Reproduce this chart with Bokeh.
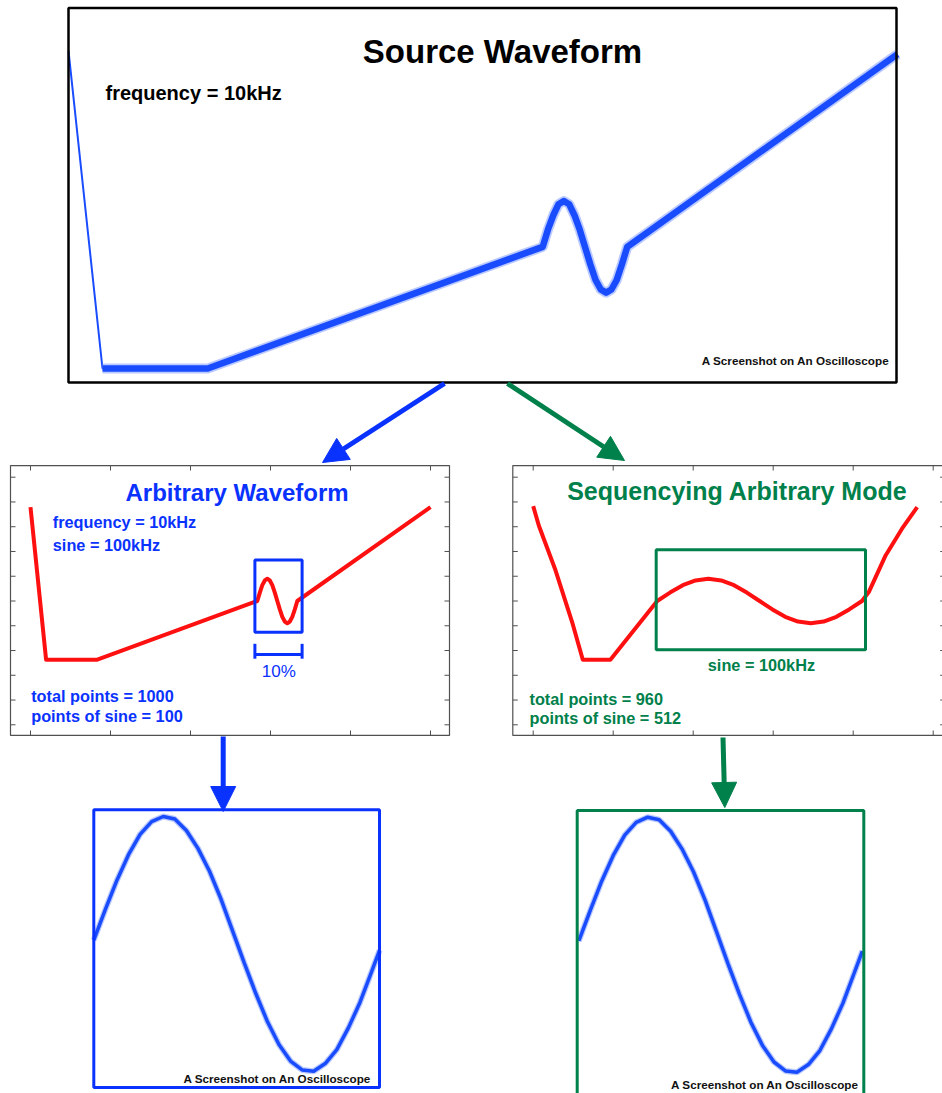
from bokeh.plotting import figure
from bokeh.models import Range1d, ColumnDataSource, Arrow, NormalHead
from bokeh.core.properties import value
from bokeh.embed import file_html
from bokeh.resources import INLINE

# ---------------- data ----------------
# Source waveform on the oscilloscope: time in % of the 100 us period, level in V
SRC_T = [0.0, 4.1, 16.8, 57.2, 57.84, 58.48, 59.11, 59.75, 60.39, 61.03, 61.66,
         62.3, 62.94, 63.58, 64.21, 64.85, 65.49, 66.13, 66.76, 67.4, 100.0]
SRC_V = [1.01, -1.0, -1.0, -0.23, -0.12, -0.03, 0.04, 0.06, 0.04, -0.03, -0.12,
         -0.23, -0.34, -0.44, -0.50, -0.52, -0.50, -0.44, -0.34, -0.23, 0.99]

# Arbitrary waveform: sample index (1000 points), level in tick units
ARB_X = [0, 39, 167, 567, 573.3, 579.5, 585.8, 592, 598.3, 604.5, 610.8, 617,
         623.3, 629.5, 635.8, 642, 648.3, 654.5, 660.8, 667, 1000]
ARB_Y = [8.79, 2.63, 2.63, 5.0, 5.34, 5.64, 5.83, 5.9, 5.83, 5.64, 5.34, 5.0,
         4.66, 4.36, 4.17, 4.1, 4.17, 4.36, 4.66, 5.0, 8.79]

# Sequencing arbitrary mode: sample index (960 points), level in tick units
SEQ_X = [0, 14, 56, 97.5, 124, 193, 310, 342, 374, 406, 438, 470, 502, 534, 566,
         598, 630, 662, 694, 726, 758, 790, 822, 839, 881, 922, 960]
SEQ_Y = [8.83, 8.05, 6.23, 4.14, 2.63, 2.63, 5.0, 5.34, 5.64, 5.83, 5.9, 5.83,
         5.64, 5.34, 5.0, 4.66, 4.36, 4.17, 4.1, 4.17, 4.36, 4.66, 5.0, 5.36,
         6.84, 7.92, 8.79]

# 100 kHz sine seen on the oscilloscope: time in us, level in V
SCOPE_T = [0, 0.4, 0.8, 1.2, 1.6, 2.0, 2.4, 2.8, 3.2, 3.6, 4.0, 4.4, 4.8, 5.2,
           5.6, 6.0, 6.4, 6.8, 7.2, 7.6, 8.0, 8.4, 8.8, 9.2, 9.6, 9.88]
SCOPE_V = [0.03, 0.27, 0.50, 0.70, 0.86, 0.96, 1.0, 0.98, 0.89, 0.75, 0.57, 0.35,
           0.10, -0.15, -0.39, -0.61, -0.79, -0.92, -0.99, -1.0, -0.94, -0.83,
           -0.66, -0.46, -0.22, -0.05]

LEVEL_TICKS = [0, 1, 2, 3, 4, 5, 6, 7, 8, 9, 10]
SAMPLE_TICKS = [0, 200, 400, 600, 800, 1000]

# ---------------- styles ----------------
BLUE = "#0a32ff"
GREEN = "#00804a"
RED = "#ff1010"
TRACE = "#1a4cff"
HALO = "#9cb2ff"
FRAME = "#505050"
FONT = value("Liberation Sans")

p = figure(width=942, height=1093, x_range=Range1d(0, 942), y_range=Range1d(1093, 0),
           output_backend="svg", toolbar_location=None, min_border=0,
           x_axis_location=None, y_axis_location=None)
p.grid.visible = False
p.outline_line_color = None
p.background_fill_color = "white"


def label(x, y, texts, size, color, align="left", bold=True):
    p.text(x=x, y=y, text=texts, text_font=FONT,
           text_font_style="bold" if bold else "normal",
           text_font_size=size, text_align=align, text_baseline="middle",
           text_color=color)


# ---------------- top: source waveform ----------------
top = p.subplot(x_source=Range1d(0, 100), y_source=Range1d(-1, 1),
                x_target=Range1d(68, 897), y_target=Range1d(368, 52))
src_all = ColumnDataSource(dict(t=SRC_T, v=SRC_V))
src_thick = ColumnDataSource(dict(t=SRC_T[1:], v=SRC_V[1:]))
top.line("t", "v", source=src_all, line_color=TRACE, line_width=2)
top.line("t", "v", source=src_thick, line_color=HALO, line_width=10, line_alpha=0.7,
         line_join="round")
top.line("t", "v", source=src_thick, line_color=TRACE, line_width=6.5, line_join="round")

p.quad(left=[68], right=[896], top=[7.5], bottom=[382], fill_color=None,
       line_color="black", line_width=2.5)
label([502], [51.3], ["Source Waveform"], "33px", "black", align="center")
label([105], [92.9], ["frequency = 10kHz"], "20px", "black")
label([889], [360.3], ["A Screenshot on An Oscilloscope"], "11.7px", "#111111",
      align="right")

# ---------------- arrows ----------------
p.add_layout(Arrow(x_start=444, y_start=383, x_end=322, y_end=462, line_color=BLUE,
                   line_width=5, end=NormalHead(size=25, fill_color=BLUE, line_color=BLUE)))
p.add_layout(Arrow(x_start=507, y_start=383, x_end=624, y_end=460, line_color=GREEN,
                   line_width=5, end=NormalHead(size=25, fill_color=GREEN, line_color=GREEN)))
p.add_layout(Arrow(x_start=222.7, y_start=736, x_end=222.7, y_end=811, line_color=BLUE,
                   line_width=5, end=NormalHead(size=25, fill_color=BLUE, line_color=BLUE)))
p.add_layout(Arrow(x_start=722.5, y_start=737, x_end=724.3, y_end=807, line_color=GREEN,
                   line_width=5, end=NormalHead(size=25, fill_color=GREEN, line_color=GREEN)))


def panel_frame(sp, left, right, bottom, top_):
    sp.quad(left=[left], right=[right], top=[top_], bottom=[bottom], fill_color=None,
            line_color=FRAME, line_width=1.2)
    n = len(LEVEL_TICKS)
    sp.segment(x0=[left] * n, x1=[left + 12.5] * n, y0=LEVEL_TICKS, y1=LEVEL_TICKS,
               line_color=FRAME, line_width=1)
    sp.segment(x0=[right] * n, x1=[right - 12.5] * n, y0=LEVEL_TICKS, y1=LEVEL_TICKS,
               line_color=FRAME, line_width=1)
    m = len(SAMPLE_TICKS)
    sp.segment(x0=SAMPLE_TICKS, x1=SAMPLE_TICKS, y0=[top_] * m, y1=[top_ - 0.2] * m,
               line_color=FRAME, line_width=1)
    sp.segment(x0=SAMPLE_TICKS, x1=SAMPLE_TICKS, y0=[bottom] * m, y1=[bottom + 0.2] * m,
               line_color=FRAME, line_width=1)


# ---------------- middle left: arbitrary waveform ----------------
ml = p.subplot(x_source=Range1d(0, 1000), y_source=Range1d(0, 10),
               x_target=Range1d(30, 430), y_target=Range1d(724.3, 476.7))
panel_frame(ml, -50, 1047.5, -0.43, 10.47)
ml.line(ARB_X, ARB_Y, line_color=RED, line_width=4, line_join="round")
ml.quad(left=[561], right=[679], top=[6.66], bottom=[3.74], fill_color=None,
        line_color=BLUE, line_width=3)
ml.segment(x0=[561, 561, 679], x1=[679, 561, 679], y0=[2.84, 3.27, 3.27],
           y1=[2.84, 2.67, 2.67], line_color=BLUE, line_width=3)

label([125], [492.2], ["Arbitrary Waveform"], "24px", BLUE)
label([52.3, 52.3, 30.7, 30.7], [521.5, 544.9, 695.9, 715.9],
      ["frequency = 10kHz", "sine = 100kHz", "total points = 1000",
       "points of sine = 100"], "16.3px", BLUE)
label([278.3], [670.7], ["10%"], "17px", BLUE, align="center", bold=False)

# ---------------- middle right: sequencing arbitrary mode ----------------
mr = p.subplot(x_source=Range1d(0, 1000), y_source=Range1d(0, 10),
               x_target=Range1d(532.7, 932.7), y_target=Range1d(724.3, 476.7))
panel_frame(mr, -51, 1030, -0.43, 10.47)
mr.line(SEQ_X, SEQ_Y, line_color=RED, line_width=4, line_join="round")
mr.quad(left=[307.5], right=[830.75], top=[7.07], bottom=[3.03], fill_color=None,
        line_color=GREEN, line_width=3)

label([566.7], [490.4], ["Sequencying Arbitrary Mode"], "25px", GREEN)
label([707.3, 529, 529], [664.2, 698.5, 717.5],
      ["sine = 100kHz", "total points = 960", "points of sine = 512"], "16.3px", GREEN)

# ---------------- bottom: oscilloscope screenshots of the sine ----------------
scope_src = ColumnDataSource(dict(t=SCOPE_T, v=SCOPE_V))
bl = p.subplot(x_source=Range1d(0, 10), y_source=Range1d(-1, 1),
               x_target=Range1d(93.3, 382.6), y_target=Range1d(1070.7, 816))
bl.line("t", "v", source=scope_src, line_color=HALO, line_width=6, line_alpha=0.7)
bl.line("t", "v", source=scope_src, line_color=TRACE, line_width=3.5)
p.quad(left=[93.3], right=[379], top=[809.3], bottom=[1087], fill_color=None,
       line_color=BLUE, line_width=3)
label([370.7], [1078.3], ["A Screenshot on An Oscilloscope"], "11.7px", "#111111",
      align="right")

br = p.subplot(x_source=Range1d(0, 10), y_source=Range1d(-1, 1),
               x_target=Range1d(578.3, 865.3), y_target=Range1d(1071.7, 816.7))
br.line("t", "v", source=scope_src, line_color=HALO, line_width=6, line_alpha=0.7)
br.line("t", "v", source=scope_src, line_color=TRACE, line_width=3.5)
p.quad(left=[576.7], right=[863.3], top=[810], bottom=[1110], fill_color=None,
       line_color=GREEN, line_width=3)
label([858.3], [1083.5], ["A Screenshot on An Oscilloscope"], "11.7px", "#111111",
      align="right")

open("out.html", "w").write(file_html(p, INLINE))
